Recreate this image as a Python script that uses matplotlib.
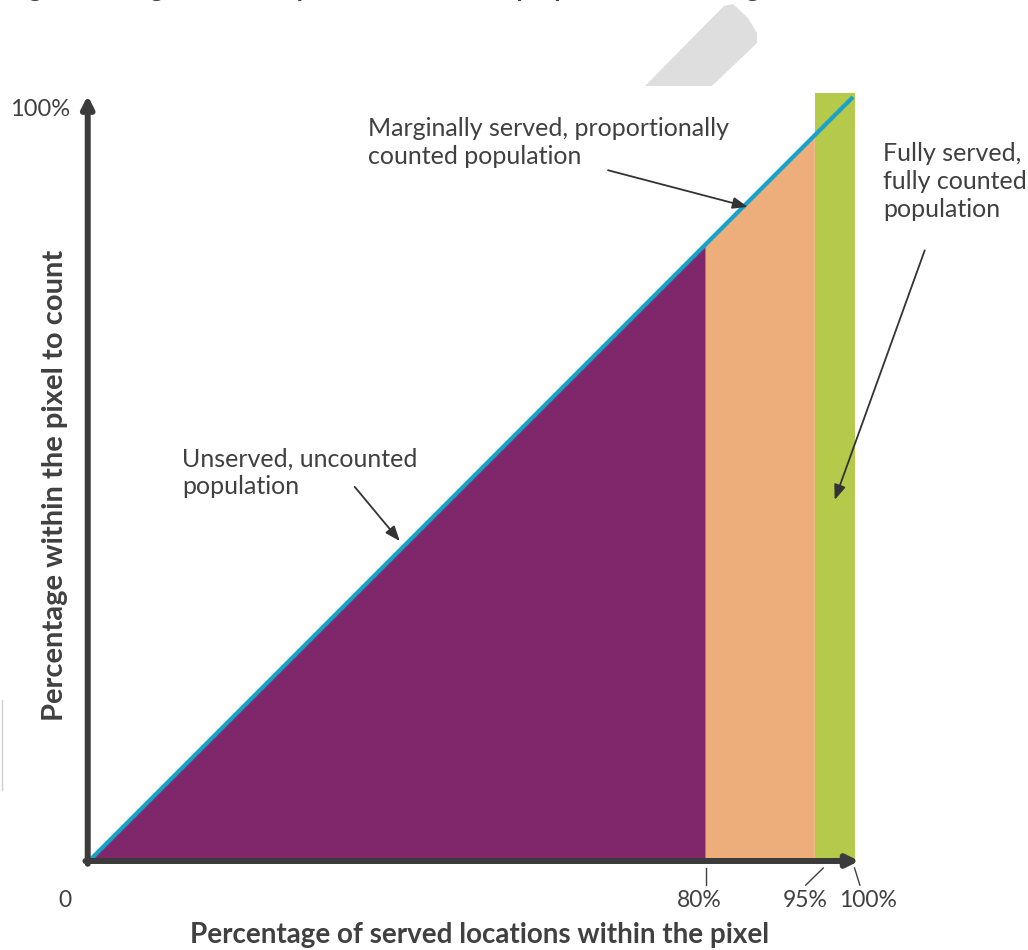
import matplotlib.pyplot as plt
from matplotlib.patches import Polygon

# =========================
# Données
# =========================

# bornes des zones (en % de lieux desservis dans le pixel)
EDGE_UNSERVED = 80.7
EDGE_MARGINAL = 95.0
EDGE_FULL = 100.3
GREEN_TOP = 100.5

TICK_LABELS = ["0", "80%", "95%", "100%"]
TICK_X = [-3.3, 79.9, 93.7, 102.0]

NOTE_MARGINAL = "Marginally served, proportionally\ncounted population"
NOTE_UNSERVED = "Unserved, uncounted\npopulation"
NOTE_FULL = "Fully served,\nfully counted\npopulation"

TITLE = "Figure 3: Diagrammatic representation of the proportional counting of served"

PURPLE = "#7f276a"
ORANGE = "#edae7c"
GREEN = "#b5ca4b"
BLUE = "#17a2c9"
AXIS = "#3b3b3b"
TXT = "#404040"

plt.rcParams["font.family"] = ["Lato", "DejaVu Sans"]

fig = plt.figure(figsize=(10.28, 9.5), dpi=100)
ax = fig.add_axes([90 / 1028, 90 / 950, 763 / 1028, 763 / 950])
ax.set_xlim(0, 100)
ax.set_ylim(0, 100)
ax.axis("off")

# titre tronqué en haut de l'image (seul le bas des lettres est visible)
fig.text(870 / 1028, 1 + 3 / 950, TITLE, ha="right", va="baseline",
         fontsize=18, fontweight="bold", color=TXT)

# forme grise décorative en haut
shape = [(645, 86), (712, 86), (757, 43), (757, 33), (748, 18), (733, 4), (724, 6)]
fig.add_artist(Polygon([(x, 950 - y) for x, y in shape], closed=True,
                       transform=None, facecolor="#dedede", edgecolor="none"))
fig.add_artist(plt.Line2D([1.5, 1.5], [950 - 790, 950 - 700], transform=None,
                          color="#d0d0d0", lw=1))

# =========================
# Zones colorées
# =========================

ax.fill([0, EDGE_UNSERVED, EDGE_UNSERVED], [0, EDGE_UNSERVED, 0],
        color=PURPLE, lw=0, clip_on=False)
ax.fill([EDGE_UNSERVED, EDGE_UNSERVED, EDGE_MARGINAL, EDGE_MARGINAL],
        [0, EDGE_UNSERVED, EDGE_MARGINAL, 0], color=ORANGE, lw=0, clip_on=False)
ax.fill([EDGE_MARGINAL, EDGE_MARGINAL, EDGE_FULL, EDGE_FULL],
        [0, GREEN_TOP, GREEN_TOP, 0], color=GREEN, lw=0, clip_on=False)

ax.plot([0, 100], [0, 100], color=BLUE, lw=3, solid_capstyle="butt", clip_on=False)

# =========================
# Axes fléchés
# =========================

arrow_kw = dict(arrowstyle="-|>,head_length=0.7,head_width=0.35",
                color=AXIS, lw=4.3, shrinkA=0, shrinkB=0)
ax.annotate("", xy=(-0.3, 100.2), xytext=(-0.3, -0.5), arrowprops=arrow_kw,
            annotation_clip=False)
ax.annotate("", xy=(100.8, -0.13), xytext=(-0.6, -0.13), arrowprops=arrow_kw,
            annotation_clip=False)

# petits traits de graduation sous l'axe
ax.plot([EDGE_UNSERVED, EDGE_UNSERVED], [-1.05, -3.3], color=TXT, lw=1, clip_on=False)
ax.plot([96.1, 93.8], [-1.05, -3.3], color=TXT, lw=1, clip_on=False)
ax.plot([100.2, 100.9], [-1.05, -3.3], color=TXT, lw=1, clip_on=False)

for lab, x in zip(TICK_LABELS, TICK_X):
    ax.text(x, -5.3, lab, ha="center", va="center", fontsize=16.5, color=TXT,
            clip_on=False)
ax.text(-6.6, 98.3, "100%", ha="center", va="center", fontsize=17, color=TXT)

# titres des axes
ax.text(51.1, -9.8, "Percentage of served locations within the pixel",
        ha="center", va="center", fontsize=20, fontweight="bold", color=TXT)
ax.text(-4.6, 49.1, "Percentage within the pixel to count", rotation=90,
        ha="center", va="center", fontsize=21, fontweight="bold", color=TXT)

# =========================
# Annotations
# =========================

note_arrow = dict(arrowstyle="-|>,head_length=0.9,head_width=0.35",
                  color="#333333", lw=1.3, shrinkA=0, shrinkB=0)

ax.text(36.4, 97.4, NOTE_MARGINAL, ha="left", va="top", fontsize=18,
        color=TXT, linespacing=1.25)
ax.annotate("", xy=(86.2, 85.6), xytext=(67.9, 90.4), arrowprops=note_arrow,
            annotation_clip=False)

ax.text(12.06, 54.1, NOTE_UNSERVED, ha="left", va="top", fontsize=18,
        color=TXT, linespacing=1.25)
ax.annotate("", xy=(40.6, 41.8), xytext=(34.7, 48.9), arrowprops=note_arrow,
            annotation_clip=False)

ax.text(103.9, 94.1, NOTE_FULL, ha="left", va="top", fontsize=18,
        color=TXT, linespacing=1.25)
ax.annotate("", xy=(97.6, 47.2), xytext=(109.4, 79.9), arrowprops=note_arrow,
            annotation_clip=False)

fig.savefig("out.png", dpi=100)
